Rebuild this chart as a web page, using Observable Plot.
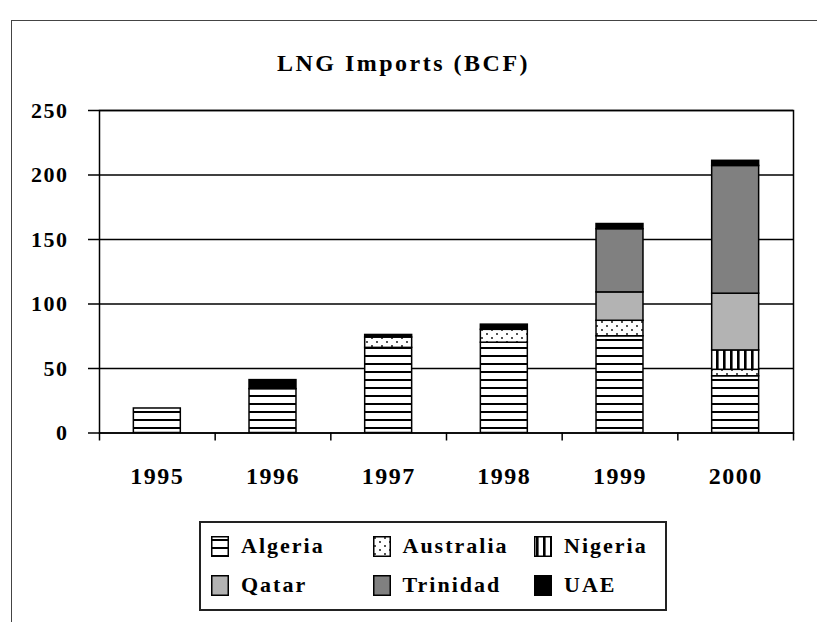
<!DOCTYPE html>
<html><head><meta charset="utf-8">
<script src="https://cdn.jsdelivr.net/npm/d3@7"></script>
<script src="https://cdn.jsdelivr.net/npm/@observablehq/plot@0.6"></script>
<style>
body{margin:0;background:#fff;}
#page{position:relative;width:817px;height:622px;overflow:hidden;font-family:"Liberation Serif","Times New Roman",serif;font-weight:bold;color:#000;background:#fff}
#frame{position:absolute;left:11px;top:20px;width:900px;height:700px;border:1.5px solid #444;box-sizing:border-box}
#title{position:absolute;left:0;width:807px;top:49px;text-align:center;font-size:24px;letter-spacing:2.5px;line-height:28px}
#chart{position:absolute;left:0;top:0}
#legend{position:absolute;left:199px;top:521px;width:468px;height:90px;border:2px solid #222;box-sizing:border-box;background:#fff}
.item{position:absolute;display:flex;align-items:center;font-size:22px;letter-spacing:2px;height:24px;white-space:nowrap}
.item svg{margin-right:12px;flex:none}
</style></head>
<body>
<svg width="0" height="0" style="position:absolute">
  <defs>
    <pattern id="pAlg" patternUnits="userSpaceOnUse" width="8" height="8">
      <rect width="8" height="8" fill="#fff"/><rect y="3" width="8" height="2" fill="#000"/>
    </pattern>
    <pattern id="pAus" patternUnits="userSpaceOnUse" width="10" height="8">
      <rect width="10" height="8" fill="#fff"/><circle cx="2" cy="2" r="0.9" fill="#000"/><circle cx="7" cy="6" r="0.9" fill="#000"/>
    </pattern>
    <pattern id="pNig" patternUnits="userSpaceOnUse" width="7" height="7">
      <rect width="7" height="7" fill="#fff"/><rect x="2" width="2.6" height="7" fill="#000"/>
    </pattern>
  </defs>
</svg>
<div id="page">
  <div id="frame"></div>
  <div id="chart"></div>
  <div id="title">LNG Imports (BCF)</div>
  <div id="legend"></div>
</div>
<script>
const title = "LNG Imports (BCF)";
const years = [1995, 1996, 1997, 1998, 1999, 2000];
const series = ["Algeria", "Australia", "Nigeria", "Qatar", "Trinidad", "UAE"];
const algeria   = [19, 34, 66, 70, 75, 44];
const australia = [0, 0, 8, 10, 12, 5];
const nigeria   = [0, 0, 0, 0, 0, 15];
const qatar     = [0, 0, 0, 0, 22, 44];
const trinidad  = [0, 0, 0, 0, 49, 99];
const uae       = [0, 7, 2, 4, 4, 4];
const yTicks = [0, 50, 100, 150, 200, 250];

const seriesValues = [algeria, australia, nigeria, qatar, trinidad, uae];
const fills = ["url(#pAlg)", "url(#pAus)", "url(#pNig)", "#b3b3b3", "#808080", "#000000"];

const data = [];
series.forEach((s, i) => years.forEach((yr, j) => {
  const v = seriesValues[i][j];
  if (v > 0) data.push({year: yr, country: s, value: v});
}));
const bounds = years.map(y => y - 0.5).concat([years[years.length - 1] + 0.5]);

const chart = Plot.plot({
  width: 817,
  height: 500,
  marginLeft: 99,
  marginRight: 24,
  marginTop: 110,
  marginBottom: 67.5,
  x: {domain: [bounds[0], bounds[bounds.length - 1]]},
  y: {domain: [0, 250]},
  color: {domain: series, range: fills},
  style: {fontFamily: '"Liberation Serif","Times New Roman",serif', fontWeight: "bold", background: "transparent", overflow: "visible", letterSpacing: "1.5px", color: "#000"},
  marks: [
    Plot.ruleY(yTicks, {stroke: "#000", strokeWidth: 1.5}),
    Plot.rect(data, Plot.stackY({
      x: "year", y: "value",
      x1: d => d.year - 0.203, x2: d => d.year + 0.203,
      fill: "country", stroke: "#000", strokeWidth: 1.5
    })),
    Plot.frame({stroke: "#000", strokeWidth: 1.5}),
    Plot.axisY({ticks: yTicks, tickSize: 11, tickPadding: 20, fontSize: 22, strokeWidth: 1.5, stroke: "#000", label: null, tickFormat: d => String(d)}),
    Plot.axisX({ticks: bounds, tickSize: 8, strokeWidth: 1.5, stroke: "#000", label: null, tickFormat: () => ""}),
    Plot.axisX({ticks: years, tickSize: 0, tickPadding: 34, fontSize: 24, label: null, tickFormat: d => String(d)})
  ]
});
document.getElementById("chart").appendChild(chart);

const legend = document.getElementById("legend");
series.forEach((s, k) => {
  const col = k % 3, row = Math.floor(k / 3);
  const item = document.createElement("div");
  item.className = "item";
  item.style.left = (10 + col * 161.5) + "px";
  item.style.top = (11 + row * 39) + "px";
  item.innerHTML = `<svg width="18" height="21"><rect x="0.75" y="0.75" width="16.5" height="19.5" fill="${fills[k]}" stroke="#000" stroke-width="1.5"/></svg><span>${s}</span>`;
  legend.appendChild(item);
});
</script>
</body></html>
